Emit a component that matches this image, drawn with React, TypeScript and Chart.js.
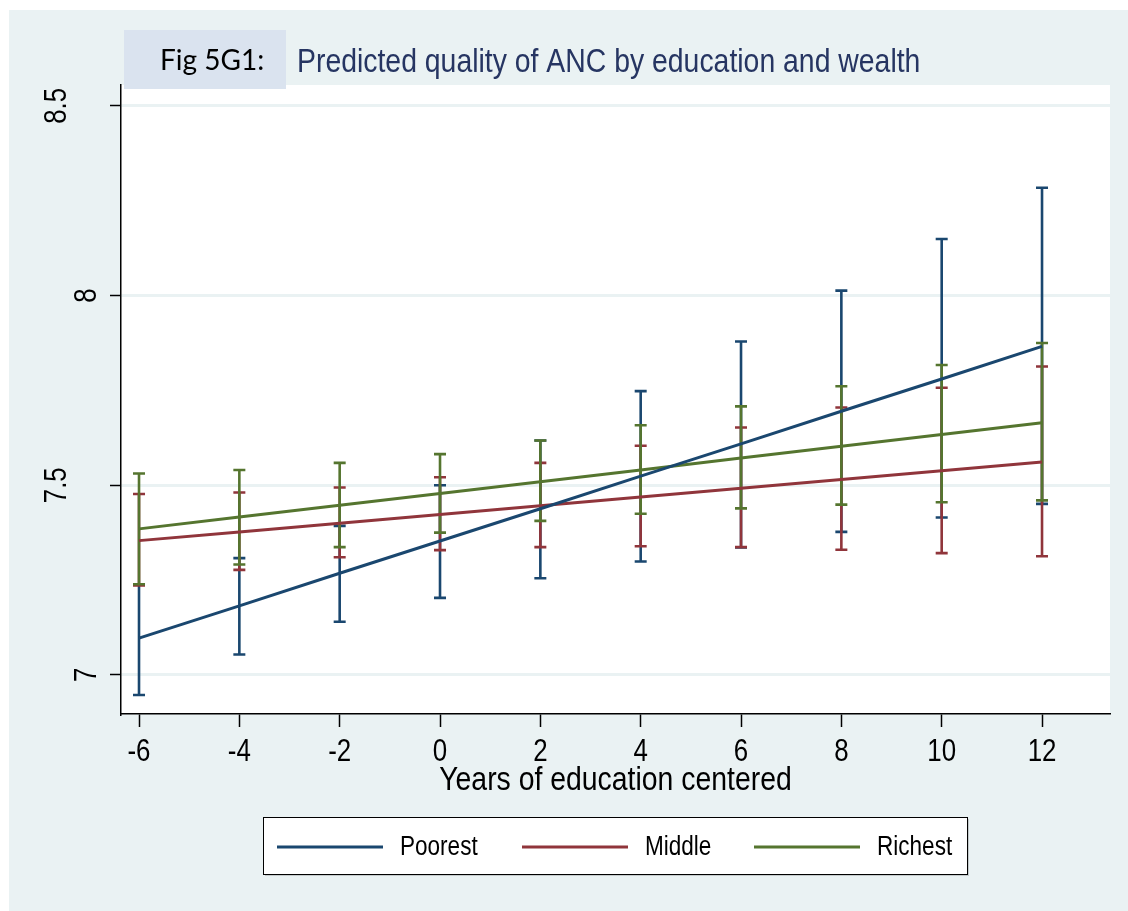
import React, { useEffect, useRef } from "react";
import { Chart, registerables } from "chart.js";

Chart.register(...registerables);

// ---- data ----
const years = [-6, -4, -2, 0, 2, 4, 6, 8, 10, 12];
const seriesNames = ["Poorest", "Middle", "Richest"];
const seriesColors = ["#1a476f", "#90353b", "#55752f"];

const poorestFit = [7.097, 7.182, 7.268, 7.353, 7.438, 7.524, 7.609, 7.695, 7.78, 7.866];
const poorestLow = [6.947, 7.054, 7.14, 7.203, 7.255, 7.299, 7.336, 7.377, 7.415, 7.451];
const poorestHigh = [7.239, 7.308, 7.393, 7.5, 7.618, 7.748, 7.879, 8.013, 8.149, 8.284];

const middleFit = [7.354, 7.377, 7.4, 7.423, 7.446, 7.469, 7.492, 7.515, 7.538, 7.561];
const middleLow = [7.236, 7.277, 7.31, 7.329, 7.337, 7.339, 7.337, 7.33, 7.321, 7.313];
const middleHigh = [7.477, 7.481, 7.494, 7.521, 7.559, 7.604, 7.652, 7.705, 7.757, 7.813];

const richestFit = [7.385, 7.416, 7.447, 7.478, 7.509, 7.54, 7.572, 7.603, 7.634, 7.665];
const richestLow = [7.239, 7.291, 7.337, 7.375, 7.406, 7.425, 7.439, 7.449, 7.455, 7.46];
const richestHigh = [7.531, 7.54, 7.559, 7.582, 7.618, 7.658, 7.708, 7.761, 7.817, 7.875];

const xTicks = [-6, -4, -2, 0, 2, 4, 6, 8, 10, 12];
const xTickLabels = ["-6", "-4", "-2", "0", "2", "4", "6", "8", "10", "12"];
const yTicks = [7, 7.5, 8, 8.5];
const yTickLabels = ["7", "7.5", "8", "8.5"];

const figLabel = "Fig 5G1:";
const titleText = "Predicted quality of ANC by education and wealth";
const xTitle = "Years of education centered";

const fits = [poorestFit, middleFit, richestFit];
const lows = [poorestLow, middleLow, richestLow];
const highs = [poorestHigh, middleHigh, richestHigh];

const SANS = "'Liberation Sans', Arial, sans-serif";
const NARROW_SCALE = 0.835;
const BG = "#eaf2f3";

const W = 1128;
const H = 911;

function narrowText(ctx: any, text: string, x: number, y: number, rotate = false) {
  ctx.save();
  ctx.translate(x, y);
  if (rotate) ctx.rotate(-Math.PI / 2);
  ctx.scale(NARROW_SCALE, 1);
  ctx.fillText(text, 0, 0);
  ctx.restore();
}

const decorPlugin = {
  id: "decor",
  beforeDraw(chart: any) {
    const { ctx, chartArea } = chart;
    ctx.save();
    ctx.fillStyle = "#ffffff";
    ctx.fillRect(0, 0, W, H);
    ctx.fillStyle = BG;
    ctx.fillRect(9, 10, W - 9, H - 10);
    ctx.fillStyle = "#ffffff";
    ctx.fillRect(chartArea.left, chartArea.top, chartArea.right - chartArea.left, chartArea.bottom - chartArea.top);
    // title box
    ctx.fillStyle = "#dae3ef";
    ctx.fillRect(124, 30, 162, 59);
    ctx.fillStyle = "#000000";
    ctx.font = "28px Lato, 'Open Sans', sans-serif";
    ctx.textBaseline = "middle";
    ctx.textAlign = "left";
    ctx.fillText(figLabel, 160, 61);
    ctx.fillStyle = "#263562";
    ctx.font = `34px ${SANS}`;
    narrowText(ctx, titleText, 297, 63);
    ctx.restore();
  },
  beforeDatasetsDraw(chart: any) {
    const { ctx } = chart;
    const xs = chart.scales.x;
    const ys = chart.scales.y;
    ctx.save();
    ctx.lineWidth = 2.6;
    ctx.lineCap = "butt";
    for (let s = 0; s < 3; s++) {
      ctx.strokeStyle = seriesColors[s];
      for (let i = 0; i < years.length; i++) {
        const px = xs.getPixelForValue(years[i]);
        const y1 = ys.getPixelForValue(lows[s][i]);
        const y2 = ys.getPixelForValue(highs[s][i]);
        ctx.beginPath();
        ctx.moveTo(px, y1);
        ctx.lineTo(px, y2);
        ctx.moveTo(px - 6, y1);
        ctx.lineTo(px + 6, y1);
        ctx.moveTo(px - 6, y2);
        ctx.lineTo(px + 6, y2);
        ctx.stroke();
      }
    }
    ctx.restore();
  },
  afterDraw(chart: any) {
    const { ctx, chartArea } = chart;
    const xs = chart.scales.x;
    const ys = chart.scales.y;
    ctx.save();
    ctx.fillStyle = "#000000";
    ctx.textAlign = "center";
    ctx.textBaseline = "middle";
    // y tick labels (rotated)
    ctx.font = `31px ${SANS}`;
    for (let i = 0; i < yTicks.length; i++) {
      const py = ys.getPixelForValue(yTicks[i]);
      const w = ctx.measureText(yTickLabels[i]).width * NARROW_SCALE;
      const cx = chartArea.left - 13 - 1.41 * w;
      narrowText(ctx, yTickLabels[i], cx, py, true);
    }
    // x tick labels
    ctx.font = `31px ${SANS}`;
    for (let i = 0; i < xTicks.length; i++) {
      const px = xs.getPixelForValue(xTicks[i]);
      narrowText(ctx, xTickLabels[i], px, chartArea.bottom + 38);
    }
    // x title
    ctx.font = `34px ${SANS}`;
    narrowText(ctx, xTitle, (chartArea.left + chartArea.right) / 2, 781);
    // legend
    const lx = 263, ly = 817, lw = 704, lh = 57;
    ctx.fillStyle = "#c4cacb";
    ctx.fillRect(lx + 2, ly + 2, lw, lh);
    ctx.fillStyle = "#ffffff";
    ctx.fillRect(lx, ly, lw, lh);
    ctx.strokeStyle = "#000000";
    ctx.lineWidth = 1;
    ctx.strokeRect(lx + 0.5, ly + 0.5, lw, lh);
    const lineStarts = [277, 522, 754];
    const textStarts = [400, 645, 877];
    ctx.font = `27px ${SANS}`;
    ctx.textAlign = "left";
    for (let s = 0; s < 3; s++) {
      ctx.strokeStyle = seriesColors[s];
      ctx.lineWidth = 3;
      ctx.beginPath();
      ctx.moveTo(lineStarts[s], 847);
      ctx.lineTo(lineStarts[s] + 106, 847);
      ctx.stroke();
      ctx.fillStyle = "#000000";
      narrowText(ctx, seriesNames[s], textStarts[s], 848);
    }
    ctx.restore();
  },
};

export default function App() {
  const ref = useRef<HTMLCanvasElement | null>(null);
  useEffect(() => {
    if (!ref.current) return;
    const chart = new Chart(ref.current, {
      type: "line",
      data: {
        datasets: seriesNames.map((name, s) => ({
          label: name,
          data: years.map((x, i) => ({ x, y: fits[s][i] })),
          borderColor: seriesColors[s],
          backgroundColor: seriesColors[s],
          borderWidth: 3,
          pointRadius: 0,
          tension: 0,
          fill: false,
        })),
      },
      options: {
        animation: false,
        responsive: false,
        maintainAspectRatio: false,
        devicePixelRatio: 1,
        layout: { padding: { left: 0, top: 85, right: W - 1110, bottom: 0 } },
        plugins: {
          legend: { display: false },
          title: { display: false },
          tooltip: { enabled: false },
        },
        scales: {
          x: {
            type: "linear",
            min: -6.359,
            max: 13.355,
            afterBuildTicks: (s: any) => {
              s.ticks = xTicks.map((v) => ({ value: v }));
            },
            afterFit: (s: any) => {
              s.height = H - 714;
            },
            ticks: { display: false },
            grid: {
              drawOnChartArea: false,
              drawTicks: true,
              tickLength: 13,
              tickColor: "#000000",
              tickWidth: 1.5,
            },
            border: { display: true, color: "#000000", width: 1.5 },
          },
          y: {
            type: "linear",
            min: 6.897,
            max: 8.555,
            afterBuildTicks: (s: any) => {
              s.ticks = yTicks.map((v) => ({ value: v }));
            },
            afterFit: (s: any) => {
              s.width = 121;
            },
            ticks: { display: false },
            grid: {
              drawOnChartArea: true,
              color: BG,
              lineWidth: 3,
              drawTicks: true,
              tickLength: 11,
              tickColor: "#000000",
              tickWidth: 1.5,
            },
            border: { display: true, color: "#000000", width: 1.5 },
          },
        },
      },
      plugins: [decorPlugin],
    });
    return () => chart.destroy();
  }, []);
  return (
    <div style={{ position: "absolute", left: 0, top: 0, width: W, height: H }}>
      <canvas ref={ref} width={W} height={H} style={{ width: W, height: H, display: "block" }} />
    </div>
  );
}
